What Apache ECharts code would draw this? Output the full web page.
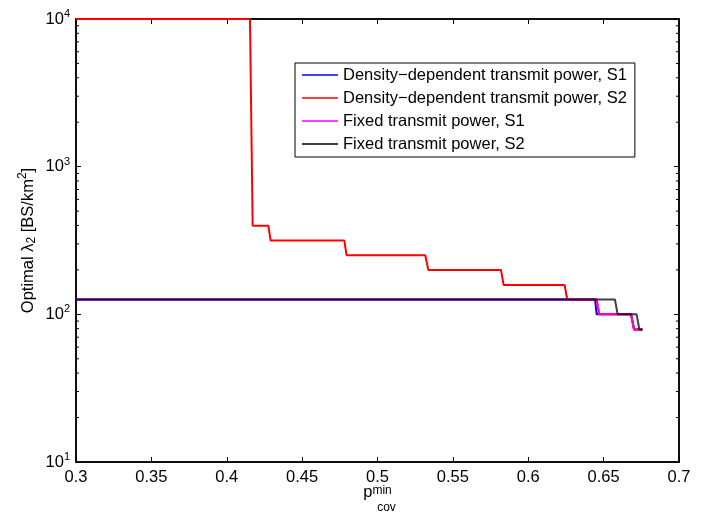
<!DOCTYPE html>
<html>
<head>
<meta charset="utf-8">
<script src="https://cdn.jsdelivr.net/npm/echarts@6/dist/echarts.min.js"></script>
<style>html,body{margin:0;padding:0;background:#fff}#c{width:709px;height:514px}</style>
</head>
<body>
<div id="c"></div>
<script>
// Data (x = p_cov^min, y = optimal lambda_2)
var seriesNames = ['Density\u2212dependent transmit power, S1','Density\u2212dependent transmit power, S2','Fixed transmit power, S1','Fixed transmit power, S2'];
var seriesColors = ['#0000ff','#ff0000','#ff00ff','#000000'];
var ddS1_x = [0.3, 0.6443, 0.6454, 0.6682, 0.6702, 0.6757];
var ddS1_y = [126, 126, 100, 100, 79, 79];
var ddS2_x = [0.3, 0.4154, 0.4172, 0.4276, 0.4291, 0.478, 0.4795, 0.5317, 0.5337, 0.5819, 0.5837, 0.6241, 0.6259, 0.6454, 0.6471, 0.6682, 0.6702, 0.6757];
var ddS2_y = [10000, 10000, 398, 398, 316, 316, 251, 251, 200, 200, 158, 158, 126, 126, 100, 100, 79, 79];
var fxS1_x = [0.3, 0.6454, 0.6471, 0.6682, 0.6702, 0.6757];
var fxS1_y = [126, 126, 100, 100, 79, 79];
var fxS2_x = [0.3, 0.6575, 0.6593, 0.6719, 0.6737, 0.6757];
var fxS2_y = [126, 126, 100, 100, 79, 79];
var xTicks = [0.3, 0.35, 0.4, 0.45, 0.5, 0.55, 0.6, 0.65, 0.7];
var yDecades = [10, 100, 1000, 10000];
var yMinorTicks = [20,30,40,50,60,70,80,90,200,300,400,500,600,700,800,900,2000,3000,4000,5000,6000,7000,8000,9000];

function zip(xs, ys){ return xs.map(function(x,i){return [x, ys[i]];}); }
var allData = [zip(ddS1_x, ddS1_y), zip(ddS2_x, ddS2_y), zip(fxS1_x, fxS1_y), zip(fxS2_x, fxS2_y)];
var lineColors = ['#0000ff', '#ff0000', 'rgba(255,0,255,0.8)', 'rgba(0,0,0,0.75)'];

var FONT = 'Liberation Sans, Arial, Helvetica, sans-serif';
var FS = 16.5;
var chart = echarts.init(document.getElementById('c'), null, {renderer:'canvas'});

function expLabel(v){
  var e = Math.round(Math.log10(v));
  return '{b|10}{s|' + e + '}';
}

var series = allData.map(function(d, i){
  return {
    name: seriesNames[i], type: 'line', data: d, showSymbol: false, symbol: 'none',
    xAxisIndex: 0, yAxisIndex: 0,
    lineStyle: {color: lineColors[i], width: 2},
    itemStyle: {color: seriesColors[i]},
    z: 3 + i, animation: false
  };
});
series.push({
  type: 'custom', xAxisIndex: 0, yAxisIndex: 0, silent: true, animation: false, z: 10,
  data: yMinorTicks.map(function(v){return [0.3, v];}),
  renderItem: function(params, api){
    var v = api.value(1);
    var l = api.coord([0.3, v]);
    var r = api.coord([0.7, v]);
    return {type:'group', children:[
      {type:'line', shape:{x1:l[0], y1:l[1], x2:l[0]+3, y2:l[1]}, style:{stroke:'#000', lineWidth:1}},
      {type:'line', shape:{x1:r[0], y1:r[1], x2:r[0]-3, y2:r[1]}, style:{stroke:'#000', lineWidth:1}}
    ]};
  }
});

var option = {
  animation: false,
  backgroundColor: '#ffffff',
  textStyle: {fontFamily: FONT},
  grid: {left: 76, right: 30, top: 19, bottom: 52, show: true, borderColor: '#000', borderWidth: 1.5,
    backgroundColor: 'transparent', containLabel: false, outerBoundsMode: 'none'},
  legend: {
    orient: 'vertical', left: 295, top: 63,
    data: seriesNames.map(function(n, i){ return {name: n,
      itemStyle: {color: seriesColors[i], opacity: 1, borderWidth: 0},
      lineStyle: {color: seriesColors[i], opacity: 1}}; }),
    icon: 'rect', itemWidth: 36, itemHeight: 1.5, itemGap: 5,
    padding: [3, 8, 4, 7],
    borderColor: '#000', borderWidth: 1, backgroundColor: '#fff',
    textStyle: {fontFamily: FONT, fontSize: FS, color: '#000', lineHeight: 18},
    selectedMode: false
  },
  xAxis: [{
    type: 'value', min: 0.3, max: 0.7, interval: 0.05,
    axisLine: {show: true, lineStyle: {color: '#000', width: 1.5}},
    axisTick: {show: true, inside: true, length: 5, lineStyle: {color: '#000'}},
    splitLine: {show: false},
    axisLabel: {color: '#000', fontSize: FS, fontFamily: FONT, margin: 7,
      formatter: function(v){ return String(+v.toFixed(2)); }},
    name: '{p|p}{sup|min}\n{sub|cov}',
    nameLocation: 'middle', nameGap: 23, nameMoveOverlap: false,
    nameTextStyle: {color:'#000', fontFamily: FONT, lineHeight: 14,
      rich: {
        p: {fontSize: FS, fontFamily: FONT, color:'#000', verticalAlign:'bottom', lineHeight: 16},
        sup: {fontSize: 12, fontFamily: FONT, color:'#000', verticalAlign:'top', lineHeight: 16},
        sub: {fontSize: 12, fontFamily: FONT, color:'#000', padding:[0,0,0,18], lineHeight: 13}
      }}
  },{
    type: 'value', position: 'top', min: 0.3, max: 0.7, interval: 0.05,
    axisLine: {show: true, lineStyle: {color: '#000', width: 1.5}},
    axisTick: {show: true, inside: true, length: 5, lineStyle: {color: '#000'}},
    axisLabel: {show: false}, splitLine: {show: false}
  }],
  yAxis: [{
    type: 'log', logBase: 10, min: 10, max: 10000,
    axisLine: {show: true, lineStyle: {color: '#000', width: 1.5}},
    axisTick: {show: true, inside: true, length: 5, lineStyle: {color: '#000'}},
    splitLine: {show: false},
    axisLabel: {color: '#000', fontFamily: FONT, margin: 6, formatter: expLabel,
      rich: {
        b: {fontSize: FS, fontFamily: FONT, color:'#000'},
        s: {fontSize: 11, fontFamily: FONT, color:'#000', padding:[0,0,10,0]}
      }},
    name: '{t|Optimal \u03bb}{sub|2}{t| [BS/km}{sup|2}{t|]}',
    nameLocation: 'middle', nameGap: 37, nameRotate: 90, nameMoveOverlap: false,
    nameTextStyle: {color:'#000', fontFamily: FONT,
      rich: {
        t: {fontSize: FS, fontFamily: FONT, color:'#000'},
        sub: {fontSize: 12, fontFamily: FONT, color:'#000', padding:[8,0,0,0]},
        sup: {fontSize: 12, fontFamily: FONT, color:'#000', padding:[0,0,10,0]}
      }}
  },{
    type: 'log', logBase: 10, min: 10, max: 10000, position: 'right',
    axisLine: {show: true, lineStyle: {color: '#000', width: 1.5}},
    axisTick: {show: true, inside: true, length: 5, lineStyle: {color: '#000'}},
    axisLabel: {show: false}, splitLine: {show: false}
  }],
  series: series
};
chart.setOption(option);
</script>
</body>
</html>
